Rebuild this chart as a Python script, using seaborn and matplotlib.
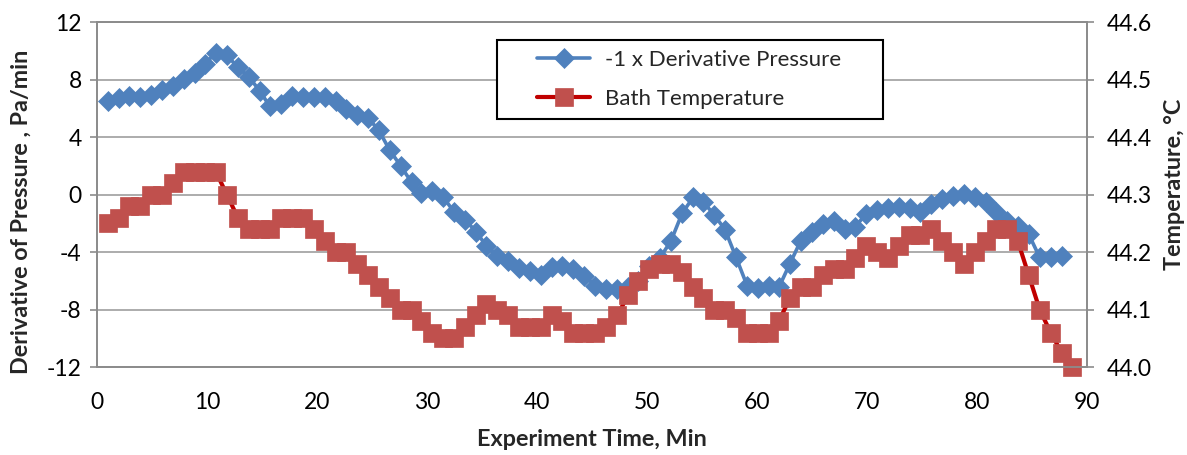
import matplotlib
matplotlib.use("Agg")
import matplotlib.pyplot as plt
import seaborn as sns
from matplotlib.legend_handler import HandlerLine2D
from matplotlib.lines import Line2D

# sampling times, min
minutes = [1.0, 2.0, 2.9, 3.9, 4.9, 5.9, 6.9, 7.9, 8.9, 9.8,
           10.8, 11.8, 12.8, 13.8, 14.8, 15.7, 16.7, 17.7, 18.7, 19.7,
           20.7, 21.7, 22.6, 23.6, 24.6, 25.6, 26.6, 27.6, 28.6, 29.5,
           30.5, 31.5, 32.5, 33.5, 34.5, 35.4, 36.4, 37.4, 38.4, 39.4,
           40.4, 41.4, 42.3, 43.3, 44.3, 45.3, 46.3, 47.3, 48.3, 49.2,
           50.2, 51.2, 52.2, 53.2, 54.2, 55.1, 56.1, 57.1, 58.1, 59.1,
           60.1, 61.1, 62.0, 63.0, 64.0, 65.0, 66.0, 67.0, 68.0, 68.9,
           69.9, 70.9, 71.9, 72.9, 73.9, 74.8, 75.8, 76.8, 77.8, 78.8,
           79.8, 80.8, 81.7, 82.7, 83.7, 84.7, 85.7, 86.7, 87.7, 88.6]

# -1 x dP/dt, Pa/min
neg_dp_dt = [6.5, 6.7, 6.85, 6.8, 6.95, 7.3, 7.55, 8.05, 8.45, 9.1,
             9.85, 9.7, 8.85, 8.2, 7.2, 6.15, 6.3, 6.85, 6.8, 6.75,
             6.8, 6.5, 5.95, 5.55, 5.35, 4.5, 3.1, 2.0, 0.85, 0.1,
             0.25, -0.2, -1.25, -1.8, -2.6, -3.6, -4.25, -4.65, -5.1, -5.35,
             -5.6, -5.05, -4.95, -5.2, -5.65, -6.35, -6.55, -6.6, -6.4, -6.0,
             -5.0, -4.4, -3.2, -1.3, -0.2, -0.5, -1.4, -2.45, -4.37, -6.33,
             -6.5, -6.35, -6.45, -4.8, -3.2, -2.6, -2.05, -1.85, -2.4, -2.28,
             -1.36, -1.05, -0.95, -0.9, -0.95, -1.24, -0.66, -0.31, -0.08, 0.03,
             -0.2, -0.55, -1.24, -1.82, -2.2, -2.75, -4.37, -4.32, -4.25]

# bath temperature, deg C
bath_temp = [44.25, 44.26, 44.28, 44.28, 44.30, 44.30, 44.32, 44.34, 44.34, 44.34,
             44.34, 44.30, 44.26, 44.24, 44.24, 44.24, 44.26, 44.26, 44.26, 44.24,
             44.22, 44.20, 44.20, 44.18, 44.16, 44.14, 44.12, 44.10, 44.10, 44.08,
             44.06, 44.05, 44.05, 44.07, 44.09, 44.11, 44.10, 44.09, 44.07, 44.07,
             44.07, 44.09, 44.08, 44.06, 44.06, 44.06, 44.07, 44.09, 44.125, 44.15,
             44.17, 44.18, 44.18, 44.165, 44.14, 44.12, 44.10, 44.10, 44.085, 44.06,
             44.06, 44.06, 44.08, 44.12, 44.14, 44.14, 44.16, 44.17, 44.17, 44.19,
             44.21, 44.20, 44.19, 44.21, 44.23, 44.23, 44.24, 44.22, 44.20, 44.18,
             44.20, 44.22, 44.24, 44.24, 44.22, 44.16, 44.10, 44.06, 44.025, 44.00]

left_ticks = [-12, -8, -4, 0, 4, 8, 12]
right_ticks = [44.0, 44.1, 44.2, 44.3, 44.4, 44.5, 44.6]
x_ticks = [0, 10, 20, 30, 40, 50, 60, 70, 80, 90]

GRID = "#A6A6A6"
SPINE = "#8C8C8C"


def main():
    sns.set_style("white")
    plt.rcParams["font.family"] = ["Lato", "DejaVu Sans"]
    plt.rcParams["axes.unicode_minus"] = False

    fig = plt.figure(figsize=(11.87, 4.55), dpi=100)
    ax = fig.add_axes([0.0817, 0.1934, 0.834, 0.7582])
    ax2 = ax.twinx()

    sns.lineplot(x=minutes[:len(neg_dp_dt)], y=neg_dp_dt, ax=ax, sort=False, estimator=None,
                 color="#4F81BD", linewidth=2.6, marker="D", markersize=9.8,
                 markerfacecolor="#4F81BD", markeredgecolor="#4F81BD", markeredgewidth=0.5,
                 label="-1 x Derivative Pressure", clip_on=False)
    sns.lineplot(x=minutes, y=bath_temp, ax=ax2, sort=False, estimator=None,
                 color="#C00000", linewidth=3.0, marker="s", markersize=12.8,
                 markerfacecolor="#C0504D", markeredgecolor="#C0504D", markeredgewidth=0.5,
                 label="Bath Temperature", clip_on=False)

    ax.set_xlim(0, 90)
    ax.set_ylim(-12, 12)
    ax2.set_ylim(44.0, 44.6)
    ax.set_xticks(x_ticks)
    ax.set_yticks(left_ticks)
    ax2.set_yticks(right_ticks)
    ax2.set_yticklabels([f"{t:.1f}" for t in right_ticks])

    ax.set_axisbelow(True)
    ax.yaxis.grid(True, color=GRID, linewidth=1.3)
    ax.xaxis.grid(False)
    ax2.grid(False)

    for a in (ax, ax2):
        for s in a.spines.values():
            s.set_color(SPINE)
            s.set_linewidth(1.3)
        a.tick_params(axis="both", direction="out", length=5, width=1.2,
                      color=SPINE, labelsize=16.5, labelcolor="black")
    ax.tick_params(axis="x", pad=13)
    ax.tick_params(axis="y", pad=6)
    ax2.tick_params(axis="y", pad=9)

    ax.set_xlabel("Experiment Time, Min", fontsize=16.8, fontweight="bold")
    ax.set_ylabel("Derivative of Pressure , Pa/min", fontsize=16.8, fontweight="bold")
    ax2.set_ylabel("Temperature, °C", fontsize=16.8, fontweight="bold")
    ax.xaxis.set_label_coords(0.5, -0.18)
    ax.yaxis.set_label_coords(-0.066, 0.45)
    ax2.yaxis.set_label_coords(1.078, 0.53)

    # one legend for both axes
    h1, l1 = ax.get_legend_handles_labels()
    h2, l2 = ax2.get_legend_handles_labels()
    for a in (ax, ax2):
        if a.get_legend() is not None:
            a.get_legend().remove()
    leg = ax2.legend(h1 + h2, l1 + l2, loc="upper left", mode="expand",
                     bbox_to_anchor=(0.404, 0.725, 0.39, 0.223), borderaxespad=0,
                     fontsize=16, frameon=True, fancybox=False, edgecolor="black",
                     framealpha=1, borderpad=0.45, labelspacing=0.85,
                     handlelength=3.75, handletextpad=0.68,
                     handler_map={Line2D: HandlerLine2D(xpad=1.35)})
    leg.get_frame().set_linewidth(1.5)

    fig.savefig("out.png", dpi=100)


if __name__ == "__main__":
    main()
